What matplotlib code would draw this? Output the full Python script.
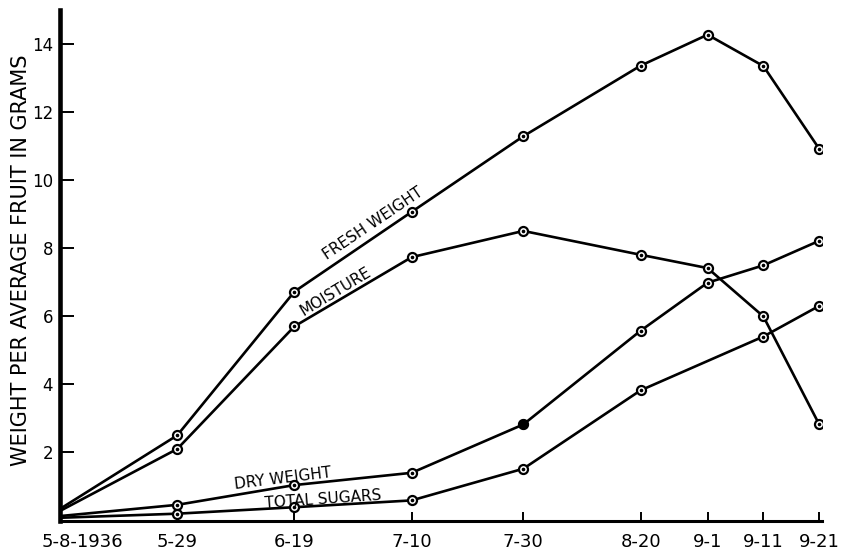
import matplotlib
matplotlib.use("Agg")
import matplotlib.pyplot as plt
import matplotlib.transforms as mtransforms

# ---- data ----
days = [0, 21, 42, 63, 83, 104, 116, 126, 136]
date_labels = ['5-8-1936', '5-29', '6-19', '7-10', '7-30', '8-20', '9-1', '9-11', '9-21']

fresh_weight = [0.34, 2.50, 6.72, 9.06, 11.28, 13.35, 14.26, 13.34, 10.91]
moisture = [0.28, 2.10, 5.70, 7.73, 8.50, 7.80, 7.41, 5.99, 2.82]
dry_weight = [0.13, 0.46, 1.04, 1.40, 2.82, 5.57, 6.98, 7.49, 8.21]
sugar_days = [0, 21, 42, 63, 83, 104, 126, 136]
total_sugars = [0.08, 0.20, 0.39, 0.59, 1.52, 3.82, 5.40, 6.30]

y_ticks = [2, 4, 6, 8, 10, 12, 14]

# ---- figure ----
fig = plt.figure(figsize=(8.44, 5.51), dpi=100)
ax = fig.add_axes([60 / 844, 1 - 520.5 / 551, 762 / 844, 511 / 551])

line_kw = dict(color='black', lw=1.9, marker='o', markersize=6.5,
               markerfacecolor='white', markeredgecolor='black',
               markeredgewidth=1.6, solid_joinstyle='round')
dot_kw = dict(ls='none', marker='o', markersize=1.6, color='black')

series = [
    (days, fresh_weight),
    (days, moisture),
    (days, dry_weight),
    (sugar_days, total_sugars),
]
for xs, ys in series:
    ax.plot(xs, ys, markevery=list(range(1, len(xs))), zorder=3, **line_kw)
    ax.plot(xs[1:], ys[1:], zorder=4, **dot_kw)

# filled point on dry weight at 7-30
ax.plot([days[4]], [dry_weight[4]], ls='none', marker='o', markersize=6.5,
        color='black', zorder=5)

ax.set_xlim(0, 136.5)
ax.set_ylim(0, 15)

for s in ['top', 'right']:
    ax.spines[s].set_visible(False)
ax.spines['left'].set_linewidth(3.3)
ax.spines['bottom'].set_linewidth(2.2)

ax.set_yticks(y_ticks)
ax.set_yticklabels([str(v) for v in y_ticks])
ax.tick_params(axis='y', direction='in', length=10, width=1.4, pad=5,
               labelsize=12)

ax.set_xticks(days)
ax.set_xticklabels(date_labels)
ax.tick_params(axis='x', direction='in', length=6.5, width=1.4, pad=9,
               labelsize=13)
xt = ax.get_xticklabels()
xt[0].set_horizontalalignment('left')
xt[0].set_transform(xt[0].get_transform() +
                    mtransforms.ScaledTranslation(-0.18, 0, fig.dpi_scale_trans))
ax.get_xticklines()[0].set_visible(False)

fig.text(21 / 844, 1 - 260 / 551, 'WEIGHT PER AVERAGE FRUIT IN GRAMS',
         rotation=90, ha='center', va='center', fontsize=15)

lab_kw = dict(ha='center', va='center', fontsize=11, rotation_mode='anchor')
ax.text(56.0, 8.72, 'FRESH WEIGHT', rotation=34, **lab_kw)
ax.text(49.4, 6.71, 'MOISTURE', rotation=31, **lab_kw)
ax.text(40.0, 1.22, 'DRY WEIGHT', rotation=7, **lab_kw)
ax.text(47.1, 0.62, 'TOTAL SUGARS', rotation=4, **lab_kw)

fig.savefig('out.png', dpi=100)
